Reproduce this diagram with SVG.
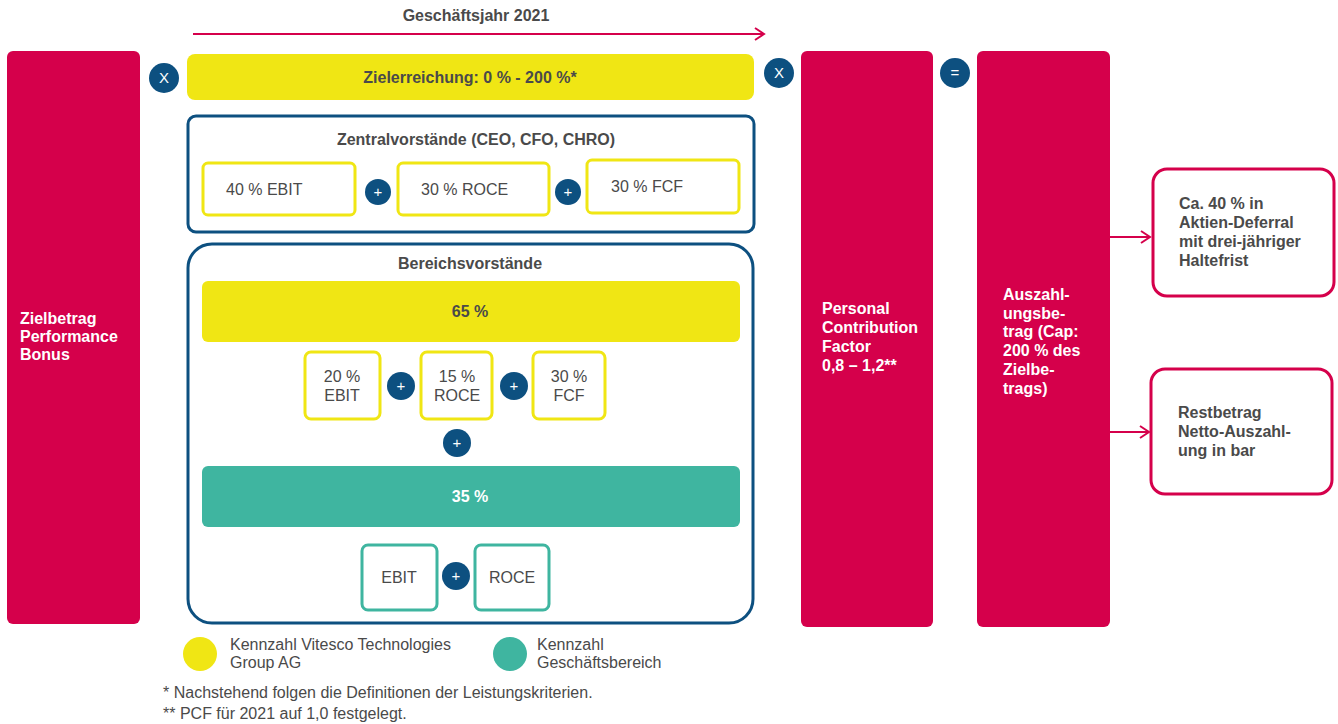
<svg xmlns="http://www.w3.org/2000/svg" width="1338" height="724" viewBox="0 0 1338 724">
<defs>
<style>
.red{fill:#d5004b}
.yel{fill:#f0e614}
.teal{fill:#3fb5a0}
.navy{fill:#0d5080}
.frame{fill:#fff;stroke:#0d5080;stroke-width:3}
.ybox{fill:#fff;stroke:#f0e614;stroke-width:3}
.tbox{fill:#fff;stroke:#3fb5a0;stroke-width:3}
.rbox{fill:#fff;stroke:#d5004b;stroke-width:3}
.t{font-family:"Liberation Sans",Arial,sans-serif;font-size:16px;fill:#4a4a4a}
.b{font-weight:bold}
.w{fill:#fff}
.c{text-anchor:middle}
.op{font-family:"Liberation Sans",Arial,sans-serif;font-size:15px;fill:#fff;text-anchor:middle}
.conn{stroke:#d5004b;stroke-width:2;fill:none}
</style>
<marker id="ah" markerWidth="12" markerHeight="14" refX="10" refY="7" orient="auto" markerUnits="userSpaceOnUse">
<path d="M1,1 L10,7 L1,13" fill="none" stroke="#d5004b" stroke-width="2"/>
</marker>
</defs>
<rect width="1338" height="724" fill="#fff"/>

<g id="connectors">
<line class="conn" x1="193" y1="34" x2="764" y2="34" marker-end="url(#ah)"/>
<line class="conn" x1="1110" y1="237" x2="1150" y2="237" marker-end="url(#ah)"/>
<line class="conn" x1="1110" y1="432" x2="1149" y2="432" marker-end="url(#ah)"/>
</g>

<g id="title">
<text class="t b c" x="476" y="21">Geschäftsjahr 2021</text>
</g>

<g id="zielbetrag">
<rect class="red" x="7" y="51" width="133" height="573" rx="6"/>
<text class="t b w" x="20" y="324">Zielbetrag</text>
<text class="t b w" x="20" y="342">Performance</text>
<text class="t b w" x="20" y="360">Bonus</text>
</g>

<g id="op-x1"><circle class="navy" cx="164" cy="78" r="15"/><text class="op" x="164" y="83">X</text></g>

<g id="zielerreichung">
<rect class="yel" x="187" y="54" width="567" height="46" rx="8"/>
<text class="t b c" x="470" y="83">Zielerreichung: 0 % - 200 %*</text>
</g>

<g id="op-x2"><circle class="navy" cx="779" cy="73" r="15"/><text class="op" x="779" y="78">X</text></g>

<g id="zentral">
<rect class="frame" x="188" y="116" width="566" height="116" rx="8"/>
<text class="t b c" x="476" y="145">Zentralvorstände (CEO, CFO, CHRO)</text>
<rect class="ybox" x="203" y="163" width="152" height="52" rx="5"/>
<text class="t" x="226" y="195">40 % EBIT</text>
<circle class="navy" cx="378" cy="192" r="13"/><text class="op" x="378" y="197">+</text>
<rect class="ybox" x="398" y="163" width="151" height="52" rx="5"/>
<text class="t" x="421" y="195">30 % ROCE</text>
<circle class="navy" cx="568" cy="192" r="13"/><text class="op" x="568" y="197">+</text>
<rect class="ybox" x="587" y="160" width="152" height="53" rx="5"/>
<text class="t" x="611" y="192">30 % FCF</text>
</g>

<g id="bereich">
<rect class="frame" x="188" y="244" width="565" height="379" rx="24"/>
<text class="t b c" x="470" y="269">Bereichsvorstände</text>
<rect class="yel" x="202" y="281" width="538" height="61" rx="6"/>
<text class="t b c" x="470" y="317">65 %</text>
<rect class="ybox" x="305" y="352" width="75" height="67" rx="6"/>
<text class="t c" x="342" y="382">20 %</text><text class="t c" x="342" y="401">EBIT</text>
<circle class="navy" cx="401" cy="386" r="14"/><text class="op" x="401" y="391">+</text>
<rect class="ybox" x="421" y="352" width="71" height="67" rx="6"/>
<text class="t c" x="457" y="382">15 %</text><text class="t c" x="457" y="401">ROCE</text>
<circle class="navy" cx="514" cy="386" r="14"/><text class="op" x="514" y="391">+</text>
<rect class="ybox" x="533" y="352" width="72" height="67" rx="6"/>
<text class="t c" x="569" y="382">30 %</text><text class="t c" x="569" y="401">FCF</text>
<circle class="navy" cx="457" cy="443" r="14"/><text class="op" x="457" y="448">+</text>
<rect class="teal" x="202" y="466" width="538" height="61" rx="6"/>
<text class="t b c w" x="470" y="502">35 %</text>
<rect class="tbox" x="362" y="545" width="75" height="65" rx="6"/>
<text class="t c" x="399" y="583">EBIT</text>
<circle class="navy" cx="456" cy="576" r="14"/><text class="op" x="456" y="581">+</text>
<rect class="tbox" x="475" y="545" width="74" height="65" rx="6"/>
<text class="t c" x="512" y="583">ROCE</text>
</g>

<g id="pcf">
<rect class="red" x="801" y="51" width="132" height="576" rx="6"/>
<text class="t b w" x="822" y="314">Personal</text>
<text class="t b w" x="822" y="333">Contribution</text>
<text class="t b w" x="822" y="352">Factor</text>
<text class="t b w" x="822" y="371">0,8 – 1,2**</text>
</g>

<g id="op-eq"><circle class="navy" cx="955" cy="73" r="15"/><text class="op" x="955" y="78">=</text></g>

<g id="auszahlung">
<rect class="red" x="977" y="51" width="133" height="576" rx="6"/>
<text class="t b w" x="1003" y="300">Auszahl-</text>
<text class="t b w" x="1003" y="319">ungsbe-</text>
<text class="t b w" x="1003" y="337">trag (Cap:</text>
<text class="t b w" x="1003" y="356">200 % des</text>
<text class="t b w" x="1003" y="375">Zielbe-</text>
<text class="t b w" x="1003" y="394">trags)</text>
</g>

<g id="deferral">
<rect class="rbox" x="1153" y="169" width="181" height="127" rx="14"/>
<text class="t b" x="1179" y="209">Ca. 40 % in</text>
<text class="t b" x="1179" y="228">Aktien-Deferral</text>
<text class="t b" x="1179" y="247">mit drei-jähriger</text>
<text class="t b" x="1179" y="266">Haltefrist</text>
</g>

<g id="restbetrag">
<rect class="rbox" x="1151" y="369" width="181" height="125" rx="14"/>
<text class="t b" x="1178" y="418">Restbetrag</text>
<text class="t b" x="1178" y="437">Netto-Auszahl-</text>
<text class="t b" x="1178" y="456">ung in bar</text>
</g>

<g id="legend">
<circle class="yel" cx="200" cy="654" r="17"/>
<text class="t" x="230" y="650">Kennzahl Vitesco Technologies</text>
<text class="t" x="230" y="668">Group AG</text>
<circle class="teal" cx="510" cy="654" r="17"/>
<text class="t" x="537" y="650">Kennzahl</text>
<text class="t" x="537" y="668">Geschäftsbereich</text>
<text class="t" x="163" y="698">* Nachstehend folgen die Definitionen der Leistungskriterien.</text>
<text class="t" x="163" y="719">** PCF für 2021 auf 1,0 festgelegt.</text>
</g>
</svg>
